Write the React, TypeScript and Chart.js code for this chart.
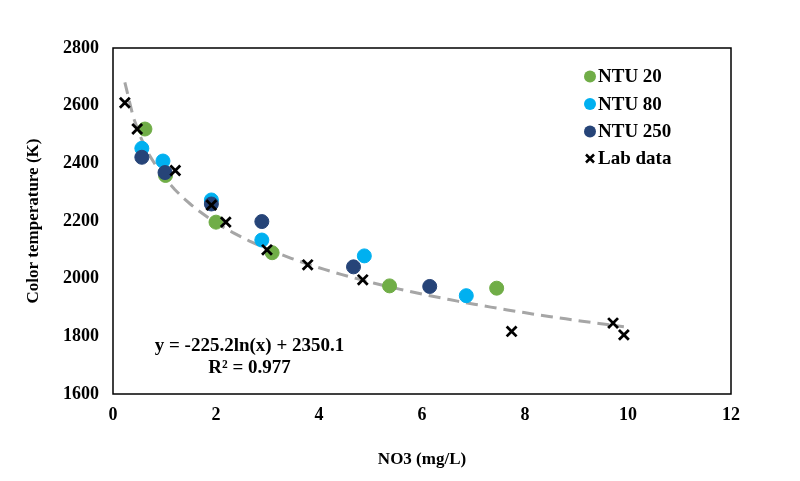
import React, { useEffect, useRef } from "react";
import { Chart, registerables } from "chart.js";

Chart.register(...registerables);

// ---- Data ----
const ntu20X = [0.62, 1.02, 2.0, 3.09, 5.37, 7.45];
const ntu20Y = [2519, 2358, 2196, 2090, 1975, 1967];
const ntu80X = [0.56, 0.97, 1.91, 2.89, 4.88, 6.86];
const ntu80Y = [2452, 2408, 2273, 2134, 2079, 1941];
const ntu250X = [0.56, 1.01, 1.91, 2.89, 4.67, 6.15];
const ntu250Y = [2421, 2368, 2259, 2198, 2041, 1973];
const labX = [0.23, 0.47, 1.21, 1.91, 2.19, 2.99, 3.78, 4.85, 7.74, 9.71, 9.92];
const labY = [2610, 2519, 2375, 2255, 2196, 2100, 2048, 1996, 1817, 1846, 1805];

// Logarithmic trendline shown on the chart: y = -225.2 ln(x) + 2350.1
const trendCoefA = -225.2;
const trendCoefB = 2350.1;
const trendSamples = 60;

const seriesNames = ["NTU 20", "NTU 80", "NTU 250", "Lab data"];
const xTickLabels = ["0", "2", "4", "6", "8", "10", "12"];
const yTickLabels = ["1600", "1800", "2000", "2200", "2400", "2600", "2800"];
const equationText = "y = -225.2ln(x) + 2350.1";
const r2Text = "R² = 0.977";

const FONT = "'Times New Roman', 'Liberation Serif', serif";
const COLORS = ["#70AD47", "#00B0F0", "#264478", "#000000"];

function pts(xs: number[], ys: number[]) {
  return xs.map((x, i) => ({ x, y: ys[i] }));
}

function trendPoints() {
  const xmin = Math.min(...labX);
  const xmax = Math.max(...labX);
  const out: { x: number; y: number }[] = [];
  for (let i = 0; i <= trendSamples; i++) {
    const x = xmin + ((xmax - xmin) * i) / trendSamples;
    out.push({ x, y: trendCoefA * Math.log(x) + trendCoefB });
  }
  return out;
}

const decorPlugin = {
  id: "decor",
  afterDatasetsDraw(chart: any) {
    const { ctx, chartArea, scales } = chart;
    ctx.save();
    // plot border box
    ctx.strokeStyle = "#000";
    ctx.lineWidth = 1.5;
    ctx.strokeRect(chartArea.left, chartArea.top, chartArea.right - chartArea.left, chartArea.bottom - chartArea.top);

    // legend
    const lx = chartArea.right - 141;
    const rows = [28.5, 56, 83.5, 110.5];
    ctx.font = `bold 19px ${FONT}`;
    ctx.textBaseline = "middle";
    ctx.textAlign = "left";
    seriesNames.forEach((name, i) => {
      const y = chartArea.top + rows[i];
      if (i < 3) {
        ctx.fillStyle = COLORS[i];
        ctx.beginPath();
        ctx.arc(lx, y, 6, 0, Math.PI * 2);
        ctx.fill();
      } else {
        ctx.strokeStyle = "#000";
        ctx.lineWidth = 2.5;
        ctx.beginPath();
        ctx.moveTo(lx - 4, y - 4);
        ctx.lineTo(lx + 4, y + 4);
        ctx.moveTo(lx - 4, y + 4);
        ctx.lineTo(lx + 4, y - 4);
        ctx.stroke();
      }
      ctx.fillStyle = "#000";
      ctx.fillText(name, lx + 8, y + 1);
    });

    // equation
    const ex = scales.x.getPixelForValue(2.65);
    const ey1 = scales.y.getPixelForValue(1766);
    const ey2 = scales.y.getPixelForValue(1690);
    ctx.textAlign = "center";
    ctx.fillText(equationText, ex, ey1);
    ctx.fillText(r2Text, ex, ey2);
    ctx.restore();
  },
};

export default function App() {
  const ref = useRef<HTMLCanvasElement | null>(null);

  useEffect(() => {
    if (!ref.current) return;
    const chart = new Chart(ref.current, {
      type: "scatter",
      data: {
        datasets: [
          {
            label: "Trend",
            type: "line",
            data: trendPoints(),
            borderColor: "#A6A6A6",
            borderWidth: 3,
            borderDash: [12, 7],
            pointRadius: 0,
            fill: false,
            order: 4,
          } as any,
          {
            label: seriesNames[0],
            data: pts(ntu20X, ntu20Y),
            backgroundColor: COLORS[0],
            borderColor: COLORS[0],
            pointRadius: 7,
            order: 3,
          },
          {
            label: seriesNames[1],
            data: pts(ntu80X, ntu80Y),
            backgroundColor: COLORS[1],
            borderColor: COLORS[1],
            pointRadius: 7,
            order: 2,
          },
          {
            label: seriesNames[2],
            data: pts(ntu250X, ntu250Y),
            backgroundColor: COLORS[2],
            borderColor: COLORS[2],
            pointRadius: 7,
            order: 1,
          },
          {
            label: seriesNames[3],
            data: pts(labX, labY),
            pointStyle: "crossRot",
            backgroundColor: "#000",
            borderColor: "#000",
            borderWidth: 2.8,
            pointRadius: 7,
            order: 0,
          },
        ],
      },
      options: {
        responsive: false,
        animation: false,
        events: [],
        layout: { padding: { top: 48, right: 69, left: 0, bottom: 0 } },
        plugins: { legend: { display: false }, tooltip: { enabled: false } },
        scales: {
          x: {
            type: "linear",
            min: 0,
            max: 12,
            afterFit: (s: any) => {
              s.height = 87;
            },
            afterBuildTicks: (s: any) => {
              s.ticks = xTickLabels.map((t) => ({ value: Number(t) }));
            },
            grid: { display: false, drawTicks: false },
            border: { display: false },
            ticks: {
              padding: 11,
              color: "#000",
              font: { family: FONT, size: 18, weight: "bold" },
              callback: (v: any) => String(v),
            },
            title: {
              display: true,
              text: "NO3 (mg/L)",
              color: "#000",
              font: { family: FONT, size: 17, weight: "bold" },
              padding: { top: 0, bottom: 11 },
            },
          },
          y: {
            type: "linear",
            min: 1600,
            max: 2800,
            afterFit: (s: any) => {
              s.width = 113;
            },
            afterBuildTicks: (s: any) => {
              s.ticks = yTickLabels.map((t) => ({ value: Number(t) }));
            },
            grid: { display: false, drawTicks: false },
            border: { display: false },
            ticks: {
              padding: 14,
              color: "#000",
              font: { family: FONT, size: 18, weight: "bold" },
              callback: (v: any) => String(v),
            },
            title: {
              display: true,
              text: "Color temperature (K)",
              color: "#000",
              font: { family: FONT, size: 17, weight: "bold" },
              padding: { top: 23, bottom: 0 },
            },
          },
        },
      },
      plugins: [decorPlugin],
    });
    return () => chart.destroy();
  }, []);

  return (
    <div style={{ position: "absolute", left: 0, top: 0, width: 800, height: 481, background: "#fff" }}>
      <canvas ref={ref} width={800} height={481} style={{ width: 800, height: 481, display: "block" }} />
    </div>
  );
}
